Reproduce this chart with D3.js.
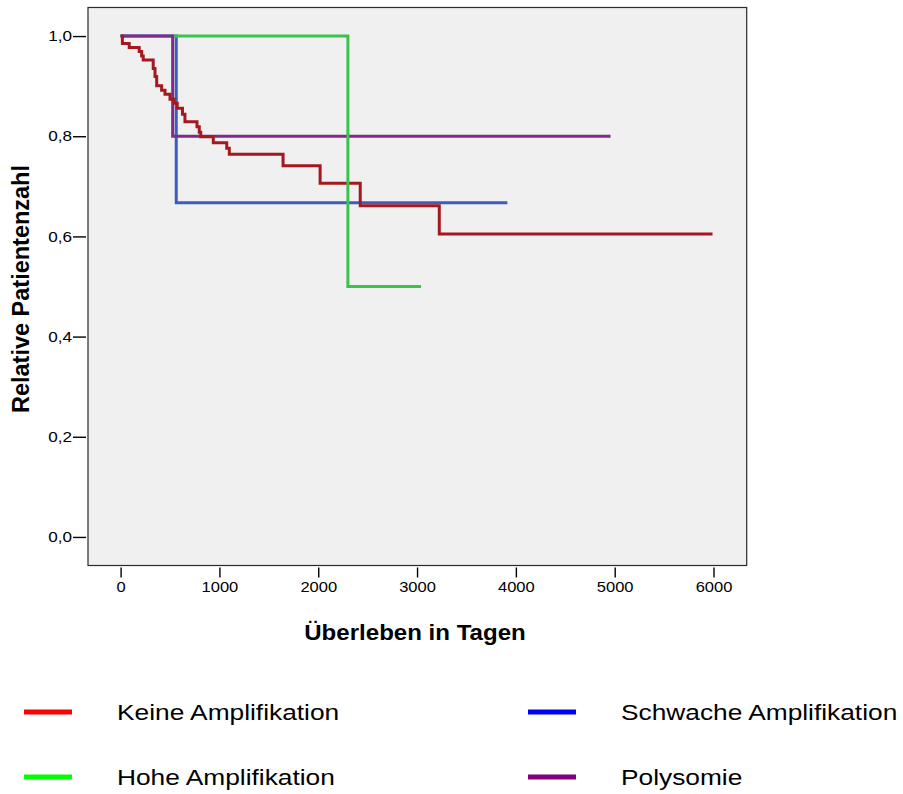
<!DOCTYPE html>
<html>
<head>
<meta charset="utf-8">
<script src="https://cdn.jsdelivr.net/npm/d3@7"></script>
<style>
  body { margin: 0; background: #fff; }
  svg { display: block; font-family: "Liberation Sans", Arial, sans-serif; }
</style>
</head>
<body>
<div id="chart"></div>
<script>
// survival data (days, relative count)
const keineTage = [0, 18, 87, 188, 213, 229, 330, 348, 365, 415, 449, 500, 540, 573, 626, 651, 773, 796, 811, 938, 1074, 1100, 1644, 2019, 2425, 3225];
const keineWerte = [1, 0.985, 0.977, 0.969, 0.96, 0.952, 0.935, 0.919, 0.901, 0.892, 0.884, 0.874, 0.866, 0.856, 0.844, 0.829, 0.819, 0.808, 0.799, 0.787, 0.776, 0.764, 0.741, 0.706, 0.661, 0.605];
const keineEnde = 5990;

const hoheTage = [540, 2300];
const hoheWerte = [1, 0.5];
const hoheEnde = 3040;

const schwachTage = [0, 563];
const schwachWerte = [1, 0.667];
const schwachEnde = 3914;

const polyTage = [0, 527];
const polyWerte = [1, 0.8];
const polyEnde = 4958;

const xTicks = [0, 1000, 2000, 3000, 4000, 5000, 6000];
const yTicks = [0, 0.2, 0.4, 0.6, 0.8, 1.0];

const legendNames = ["Keine Amplifikation", "Schwache Amplifikation", "Hohe Amplifikation", "Polysomie"];
const legendColors = ["#ff0000", "#0000ff", "#00ff00", "#800080"];

const width = 903, height = 794;
const sx = 1.18; // text in the original is stretched sideways

const svg = d3.select("#chart")
  .append("svg")
  .attr("width", width)
  .attr("height", height);

const x = d3.scaleLinear().domain([-330, 6336]).range([88, 746.7]);
const y = d3.scaleLinear().domain([-0.057, 1.057]).range([565.5, 7.5]);

const de = d3.formatLocale({ decimal: ",", thousands: ".", grouping: [3], currency: ["", "€"] });

// plot background
svg.append("rect")
  .attr("x", x.range()[0])
  .attr("y", y.range()[1])
  .attr("width", x.range()[1] - x.range()[0])
  .attr("height", y.range()[0] - y.range()[1])
  .attr("fill", "#f0f0f0")
  .attr("stroke", "#2a2a2a")
  .attr("stroke-width", 1.2);

// x axis, ticks sit below the frame
const xAxis = svg.append("g")
  .attr("transform", "translate(0,567.5)")
  .call(d3.axisBottom(x).tickValues(xTicks).tickSize(10).tickPadding(5).tickFormat(de.format("d")));
xAxis.select(".domain").remove();
xAxis.selectAll("line").attr("stroke", "#000").attr("stroke-width", 1.4);
xAxis.selectAll("text")
  .attr("font-size", 14)
  .attr("font-family", "'Liberation Sans', Arial, sans-serif")
  .attr("fill", "#000")
  .attr("transform", function () {
    const ty = +this.getAttribute("y");
    return `translate(0,${ty}) scale(${sx},1)`;
  })
  .attr("y", 0);

const yAxis = svg.append("g")
  .attr("transform", "translate(86,0)")
  .call(d3.axisLeft(y).tickValues(yTicks).tickSize(13).tickPadding(0).tickFormat(de.format(".1f")));
yAxis.select(".domain").remove();
yAxis.selectAll("line").attr("stroke", "#000").attr("stroke-width", 1.4);
yAxis.selectAll("text")
  .attr("font-size", 14.5)
  .attr("font-family", "'Liberation Sans', Arial, sans-serif")
  .attr("fill", "#000")
  .attr("transform", function () {
    const tx = +this.getAttribute("x");
    return `translate(${tx - 1},0) scale(${sx},1)`;
  })
  .attr("x", 0);

// axis titles
svg.append("text")
  .attr("transform", "translate(415,640) scale(1.12,1)")
  .attr("text-anchor", "middle")
  .attr("font-size", 21.5)
  .attr("font-weight", "bold")
  .text("Überleben in Tagen");

svg.append("text")
  .attr("transform", "translate(29,289) scale(1.05,1) rotate(-90)")
  .attr("text-anchor", "middle")
  .attr("font-size", 23.5)
  .attr("font-weight", "bold")
  .text("Relative Patientenzahl");

// step curves
const line = d3.line()
  .x((d) => x(d[0]))
  .y((d) => y(d[1]))
  .curve(d3.curveStepAfter);

function steps(tage, werte, ende) {
  const pts = tage.map((t, i) => [t, werte[i]]);
  pts.push([ende, werte[werte.length - 1]]);
  return pts;
}

const curves = [
  { pts: steps(schwachTage, schwachWerte, schwachEnde), color: "#3d5cbc" },
  { pts: steps(polyTage, polyWerte, polyEnde), color: "#7d2d87" },
  { pts: steps(keineTage, keineWerte, keineEnde), color: "#a3191f" },
  { pts: steps(hoheTage, hoheWerte, hoheEnde), color: "#3cc24c" },
];

svg.append("g")
  .selectAll("path")
  .data(curves)
  .enter()
  .append("path")
  .attr("d", (d) => line(d.pts))
  .attr("fill", "none")
  .attr("stroke", (d) => d.color)
  .attr("stroke-width", 3)
  .attr("stroke-linejoin", "miter");

// legend, two columns
const legend = svg.append("g").attr("class", "legend");
const items = legend.selectAll("g")
  .data(legendNames)
  .enter()
  .append("g")
  .attr("transform", (d, i) => `translate(${i % 2 === 0 ? 24 : 528},${i < 2 ? 712 : 777})`);

items.append("rect")
  .attr("x", 0)
  .attr("y", -2.5)
  .attr("width", 48)
  .attr("height", 5)
  .attr("fill", (d, i) => legendColors[i]);

items.append("text")
  .attr("transform", `translate(93,7.8) scale(${sx},1)`)
  .attr("font-size", 22.3)
  .attr("fill", "#000")
  .text((d) => d);
</script>
</body>
</html>
